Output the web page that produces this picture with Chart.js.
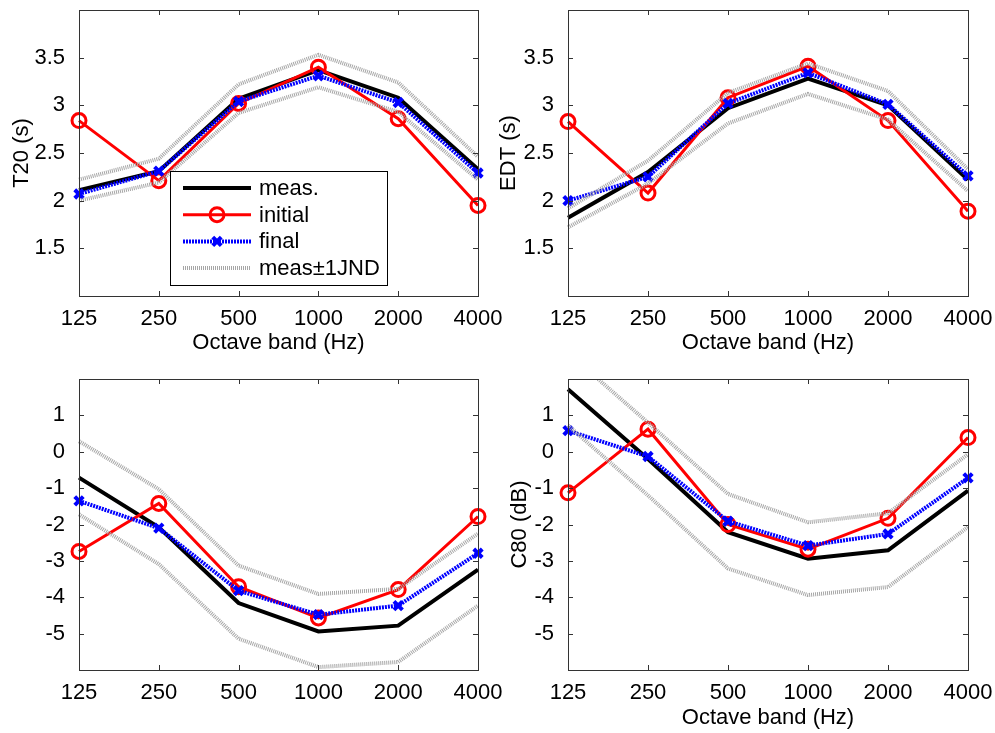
<!DOCTYPE html>
<html>
<head>
<meta charset="utf-8">
<script src="https://cdn.jsdelivr.net/npm/chart.js@4.4.1/dist/chart.umd.min.js"></script>
<style>
  body { margin: 0; background: #fff; width: 995px; height: 733px; overflow: hidden; position: relative; }
  .panel { position: absolute; }
</style>
</head>
<body>
<div class="panel" style="left:0;top:0;width:520px;height:365px"><canvas id="t20"></canvas></div>
<div class="panel" style="left:490px;top:0;width:505px;height:365px"><canvas id="edt"></canvas></div>
<div class="panel" style="left:0;top:365px;width:520px;height:368px"><canvas id="p3"></canvas></div>
<div class="panel" style="left:490px;top:365px;width:505px;height:368px"><canvas id="c80"></canvas></div>
<script>
const bands = ["125", "250", "500", "1000", "2000", "4000"];

const t20Ticks = [1.5, 2, 2.5, 3, 3.5];
const dbTicks = [-5, -4, -3, -2, -1, 0, 1];

// T20 (s)
const t20Meas    = [2.11, 2.31, 3.07, 3.37, 3.08, 2.33];
const t20Initial = [2.84, 2.21, 3.02, 3.40, 2.86, 1.95];
const t20Final   = [2.07, 2.31, 3.04, 3.31, 3.03, 2.29];
const t20Upper   = [2.22, 2.44, 3.22, 3.53, 3.24, 2.46];
const t20Lower   = [2.00, 2.19, 2.92, 3.19, 2.93, 2.22];

// EDT (s)
const edtMeas    = [1.82, 2.30, 2.97, 3.28, 3.00, 2.22];
const edtInitial = [2.83, 2.08, 3.08, 3.41, 2.84, 1.89];
const edtFinal   = [2.00, 2.25, 3.02, 3.34, 3.01, 2.26];
const edtUpper   = [1.92, 2.42, 3.13, 3.44, 3.15, 2.33];
const edtLower   = [1.72, 2.18, 2.81, 3.12, 2.85, 2.10];

// bottom left panel (no axis label)
const p3Meas    = [-0.71, -2.08, -4.16, -4.94, -4.78, -3.24];
const p3Initial = [-2.74, -1.42, -3.71, -4.57, -3.79, -1.78];
const p3Final   = [-1.35, -2.10, -3.82, -4.48, -4.23, -2.79];
const p3Upper   = [0.29, -1.03, -3.13, -3.91, -3.77, -2.25];
const p3Lower   = [-1.72, -3.09, -5.14, -5.92, -5.78, -4.23];

// C80 (dB)
const c80Meas    = [1.72, -0.20, -2.21, -2.94, -2.71, -1.07];
const c80Initial = [-1.13, 0.62, -2.00, -2.68, -1.83, 0.39];
const c80Final   = [0.58, -0.13, -1.91, -2.58, -2.26, -0.72];
const c80Upper   = [2.72, 0.80, -1.16, -1.94, -1.69, -0.07];
const c80Lower   = [0.72, -1.20, -3.21, -3.94, -3.72, -2.07];

Chart.defaults.font.family = "'Liberation Sans', Arial, sans-serif";
Chart.defaults.font.size = 22;
Chart.defaults.color = "#000";

function jnd(data, legend) {
    return {
        data: data,
        legendText: legend,
        borderColor: "#a6a6a6",
        borderWidth: 4,
        borderDash: [1, 1],
        pointRadius: 0,
        tension: 0
    };
}

function makeDatasets(meas, initial, fin, upper, lower) {
    return [
        jnd(upper, "meas\u00b11JND"),
        jnd(lower, null),
        {
            data: fin,
            legendText: "final",
            borderColor: "#0000ff",
            borderWidth: 4,
            borderDash: [2, 1],
            pointStyle: "crossRot",
            pointRadius: 6,
            pointBorderWidth: 4,
            pointBorderColor: "#0000ff",
            tension: 0
        },
        {
            data: initial,
            legendText: "initial",
            borderColor: "#ff0000",
            borderWidth: 3,
            pointStyle: "circle",
            pointRadius: 7,
            pointBorderWidth: 3,
            pointBorderColor: "#ff0000",
            pointBackgroundColor: "rgba(0,0,0,0)",
            tension: 0
        },
        {
            data: meas,
            legendText: "meas.",
            borderColor: "#000",
            borderWidth: 4,
            pointRadius: 0,
            tension: 0
        }
    ];
}

// matlab style box with inward tick marks
const boxPlugin = {
    id: "box",
    afterDatasetsDraw(chart) {
        const {ctx, chartArea: a, scales} = chart;
        ctx.save();
        ctx.strokeStyle = "#333";
        ctx.lineWidth = 1;
        ctx.beginPath();
        scales.y.ticks.forEach(t => {
            const y = Math.round(scales.y.getPixelForValue(t.value)) + 0.5;
            ctx.moveTo(a.left, y); ctx.lineTo(a.left + 5, y);
            ctx.moveTo(a.right, y); ctx.lineTo(a.right - 5, y);
        });
        scales.x.ticks.forEach((t, i) => {
            const x = Math.round(scales.x.getPixelForTick(i)) + 0.5;
            ctx.moveTo(x, a.bottom); ctx.lineTo(x, a.bottom - 5);
            ctx.moveTo(x, a.top); ctx.lineTo(x, a.top + 5);
        });
        ctx.stroke();
        ctx.strokeRect(Math.round(a.left) + 0.5, Math.round(a.top) + 0.5,
            Math.round(a.right - a.left), Math.round(a.bottom - a.top));
        ctx.restore();
    }
};

// legend drawn inside the axes, like matlab
const boxLegend = {
    id: "boxLegend",
    afterDraw(chart, args, opts) {
        if (!opts.show) return;
        const ctx = chart.ctx;
        const items = chart.data.datasets.filter(d => d.legendText).reverse();
        ctx.save();
        ctx.fillStyle = "#fff";
        ctx.fillRect(opts.x, opts.y, opts.w, opts.h);
        ctx.strokeStyle = "#000";
        ctx.lineWidth = 1;
        ctx.strokeRect(opts.x + 0.5, opts.y + 0.5, opts.w, opts.h);
        items.forEach((d, i) => {
            const y = opts.y + opts.first + i * opts.step;
            const x0 = opts.x + 13, x1 = opts.x + 81;
            ctx.strokeStyle = d.borderColor;
            ctx.lineWidth = d.borderWidth;
            ctx.setLineDash(d.borderDash || []);
            ctx.beginPath();
            ctx.moveTo(x0, y); ctx.lineTo(x1, y);
            ctx.stroke();
            ctx.setLineDash([]);
            if (d.pointRadius) {
                ctx.strokeStyle = d.pointBorderColor;
                ctx.fillStyle = d.pointBackgroundColor || d.pointBorderColor;
                ctx.lineWidth = d.pointBorderWidth;
                Chart.helpers.drawPoint(ctx, {pointStyle: d.pointStyle, radius: d.pointRadius, rotation: 0, borderWidth: d.pointBorderWidth}, (x0 + x1) / 2, y);
            }
            ctx.fillStyle = "#000";
            ctx.font = "22px 'Liberation Sans', Arial, sans-serif";
            ctx.textBaseline = "middle";
            ctx.fillText(d.legendText, opts.x + 89, y + 1);
        });
        ctx.restore();
    }
};

function makeChart(id, frame, cfg) {
    const p = frame.panel;
    return new Chart(document.getElementById(id), {
        type: "line",
        data: { labels: bands, datasets: cfg.datasets },
        plugins: [boxPlugin, boxLegend],
        options: {
            responsive: true,
            maintainAspectRatio: false,
            animation: false,
            layout: {
                padding: { top: frame.top - p.y, right: p.x + p.w - frame.right, left: 0, bottom: 0 }
            },
            scales: {
                x: {
                    grid: { display: false },
                    border: { display: false },
                    ticks: { autoSkip: false, maxRotation: 0, padding: 2 },
                    title: { display: !!cfg.xTitle, text: cfg.xTitle, padding: { bottom: cfg.xTitlePad, top: 0 } },
                    afterFit: s => {
                        s.height = p.y + p.h - frame.bottom;
                        s.paddingLeft = 0;
                        s.paddingRight = 0;
                    }
                },
                y: {
                    min: cfg.min,
                    max: cfg.max,
                    grid: { display: false },
                    border: { display: false },
                    ticks: { padding: 6, callback: v => String(v) },
                    afterBuildTicks: s => { s.ticks = cfg.ticks.map(v => ({ value: v })); },
                    title: { display: !!cfg.yTitle, text: cfg.yTitle, padding: { top: cfg.yTitlePad, bottom: 0 } },
                    afterFit: s => {
                        s.width = frame.left - p.x;
                        s.paddingTop = 0;
                        s.paddingBottom = 0;
                    }
                }
            },
            plugins: {
                legend: { display: false },
                tooltip: { enabled: false },
                boxLegend: cfg.legend || { show: false }
            }
        }
    });
}

makeChart("t20",
    { panel: { x: 0, y: 0, w: 520, h: 365 }, left: 79, right: 478, top: 4, bottom: 296 },
    {
        datasets: makeDatasets(t20Meas, t20Initial, t20Final, t20Upper, t20Lower),
        min: 1, max: 4, ticks: t20Ticks,
        yTitle: "T20 (s)", yTitlePad: 9,
        xTitle: "Octave band (Hz)", xTitlePad: 9,
        legend: { show: true, x: 170, y: 171, w: 217, h: 114, first: 17, step: 26.7 }
    });

makeChart("edt",
    { panel: { x: 490, y: 0, w: 505, h: 365 }, left: 568, right: 968, top: 4, bottom: 296 },
    {
        datasets: makeDatasets(edtMeas, edtInitial, edtFinal, edtUpper, edtLower),
        min: 1, max: 4, ticks: t20Ticks,
        yTitle: "EDT (s)", yTitlePad: 6,
        xTitle: "Octave band (Hz)", xTitlePad: 9
    });

makeChart("p3",
    { panel: { x: 0, y: 365, w: 520, h: 368 }, left: 79, right: 478, top: 379, bottom: 670 },
    {
        datasets: makeDatasets(p3Meas, p3Initial, p3Final, p3Upper, p3Lower),
        min: -6, max: 2, ticks: dbTicks
    });

makeChart("c80",
    { panel: { x: 490, y: 365, w: 505, h: 368 }, left: 568, right: 968, top: 379, bottom: 670 },
    {
        datasets: makeDatasets(c80Meas, c80Initial, c80Final, c80Upper, c80Lower),
        min: -6, max: 2, ticks: dbTicks,
        yTitle: "C80 (dB)", yTitlePad: 17,
        xTitle: "Octave band (Hz)", xTitlePad: 2
    });
</script>
</body>
</html>
